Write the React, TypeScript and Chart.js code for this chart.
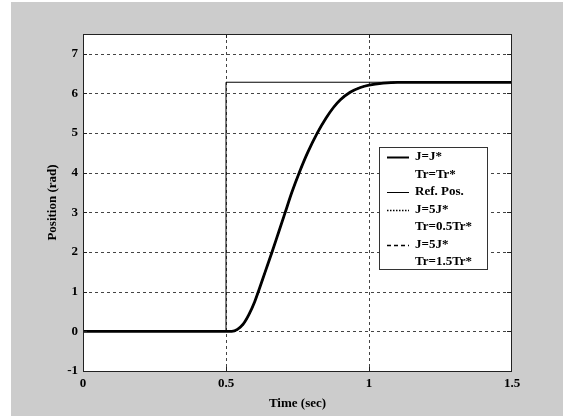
import React, { useEffect, useRef } from 'react';
import { Chart, registerables } from 'chart.js';

Chart.register(...registerables);

// ---- data ----
const timeSec = [0, 0.5, 0.52, 0.54, 0.56, 0.58, 0.6, 0.613, 0.637, 0.661, 0.684, 0.707, 0.73, 0.756, 0.785, 0.819, 0.85, 0.875, 0.9, 0.934, 0.97, 1.0, 1.05, 1.1, 1.2, 1.5];
const posJnomTrNom = [0, 0, 0, 0.05, 0.18, 0.42, 0.74, 1, 1.5, 2, 2.5, 3, 3.5, 4, 4.5, 5, 5.38, 5.64, 5.84, 6.03, 6.15, 6.21, 6.26, 6.28, 6.28, 6.28];
const posJ5Tr05 = [0, 0, 0, 0.05, 0.18, 0.42, 0.74, 1, 1.5, 2, 2.5, 3, 3.5, 4, 4.5, 5, 5.38, 5.64, 5.84, 6.03, 6.15, 6.21, 6.26, 6.28, 6.28, 6.28];
const posJ5Tr15 = [0, 0, 0, 0.05, 0.18, 0.42, 0.74, 1, 1.5, 2, 2.5, 3, 3.5, 4, 4.5, 5, 5.38, 5.64, 5.84, 6.03, 6.15, 6.21, 6.26, 6.28, 6.28, 6.28];
const refTime = [0, 0.5, 0.5, 1.5];
const refPos = [0, 0, 6.2832, 6.2832];

const xTickValues = [0, 0.5, 1, 1.5];
const xTickLabels = ['0', '0.5', '1', '1.5'];
const yTickValues = [-1, 0, 1, 2, 3, 4, 5, 6, 7];
const yTickLabels = ['-1', '0', '1', '2', '3', '4', '5', '6', '7'];

const xTitle = 'Time (sec)';
const yTitle = 'Position (rad)';

const legendLabels: string[][] = [
  ['J=J*', 'Tr=Tr*'],
  ['Ref. Pos.'],
  ['J=5J*', 'Tr=0.5Tr*'],
  ['J=5J*', 'Tr=1.5Tr*'],
];

const FONT = "'Liberation Serif', 'Times New Roman', serif";

const toPts = (xs: number[], ys: number[]) => xs.map((x, i) => ({ x, y: ys[i] }));

const framePlugin = {
  id: 'matlabFrame',
  beforeDraw(chart: any) {
    const { ctx, chartArea: a } = chart;
    const xs = chart.scales.x;
    const ys = chart.scales.y;
    ctx.save();
    ctx.fillStyle = '#ffffff';
    ctx.fillRect(a.left, a.top, a.right - a.left, a.bottom - a.top);
    ctx.strokeStyle = '#444444';
    ctx.lineWidth = 1;
    ctx.setLineDash([3, 3]);
    xs.ticks.forEach((t: any) => {
      const px = Math.round(xs.getPixelForValue(t.value)) + 0.5;
      if (px <= a.left + 2 || px >= a.right - 2) return;
      ctx.beginPath();
      ctx.moveTo(px, a.top);
      ctx.lineTo(px, a.bottom);
      ctx.stroke();
    });
    ys.ticks.forEach((t: any) => {
      const py = Math.round(ys.getPixelForValue(t.value)) + 0.5;
      if (py <= a.top + 2 || py >= a.bottom - 2) return;
      ctx.beginPath();
      ctx.moveTo(a.left, py);
      ctx.lineTo(a.right, py);
      ctx.stroke();
    });
    ctx.restore();
  },
  afterDatasetsDraw(chart: any) {
    const { ctx, chartArea: a } = chart;
    const xs = chart.scales.x;
    const ys = chart.scales.y;
    ctx.save();
    ctx.setLineDash([]);
    ctx.strokeStyle = '#222222';
    ctx.lineWidth = 1;
    // inner tick marks
    const tl = 4;
    xs.ticks.forEach((t: any) => {
      const px = Math.round(xs.getPixelForValue(t.value)) + 0.5;
      if (px <= a.left + 2 || px >= a.right - 2) return;
      ctx.beginPath();
      ctx.moveTo(px, a.bottom);
      ctx.lineTo(px, a.bottom - tl);
      ctx.moveTo(px, a.top);
      ctx.lineTo(px, a.top + tl);
      ctx.stroke();
    });
    ys.ticks.forEach((t: any) => {
      const py = Math.round(ys.getPixelForValue(t.value)) + 0.5;
      if (py <= a.top + 2 || py >= a.bottom - 2) return;
      ctx.beginPath();
      ctx.moveTo(a.left, py);
      ctx.lineTo(a.left + tl, py);
      ctx.moveTo(a.right - 1, py);
      ctx.lineTo(a.right - 1 - tl, py);
      ctx.stroke();
    });
    // frame
    ctx.strokeRect(a.left + 0.5, a.top + 0.5, a.right - a.left - 1, a.bottom - a.top);

    // legend
    const bx = a.right - 133;
    const by = a.top + 113;
    const bw = 108;
    const bh = 122;
    ctx.fillStyle = '#ffffff';
    ctx.fillRect(bx, by, bw, bh);
    ctx.strokeStyle = '#333333';
    ctx.strokeRect(bx + 0.5, by + 0.5, bw, bh);
    ctx.font = `bold 13px ${FONT}`;
    ctx.textBaseline = 'middle';
    ctx.textAlign = 'left';
    const rowH = 17.5;
    let row = 0;
    const order = [0, 3, 1, 2];
    legendLabels.forEach((lines, i) => {
      const ds = chart.data.datasets[order[i]];
      const y = Math.round(by + 10 + row * rowH) + 0.5;
      ctx.save();
      ctx.strokeStyle = '#000000';
      ctx.lineWidth = Math.min(ds.borderWidth, 2);
      ctx.setLineDash(ds.legendDash || []);
      ctx.beginPath();
      ctx.moveTo(bx + 8, y);
      ctx.lineTo(bx + 30, y);
      ctx.stroke();
      ctx.restore();
      lines.forEach((ln) => {
        ctx.fillStyle = '#000000';
        ctx.fillText(ln, bx + 36, by + 10 + row * rowH);
        row += 1;
      });
    });
    ctx.restore();
  },
};

export default function App() {
  const ref = useRef<HTMLCanvasElement>(null);
  useEffect(() => {
    if (!ref.current) return;
    const chart = new Chart(ref.current, {
      type: 'scatter',
      data: {
        datasets: [
          {
            label: 'J=J* Tr=Tr*',
            data: toPts(timeSec, posJnomTrNom),
            showLine: true,
            borderColor: '#000000',
            borderWidth: 2.8,
            pointRadius: 0,
            cubicInterpolationMode: 'monotone',
            legendDash: [],
          } as any,
          {
            label: 'J=5J* Tr=0.5Tr*',
            data: toPts(timeSec, posJ5Tr05),
            showLine: true,
            borderColor: '#000000',
            borderWidth: 1.5,
            borderDash: [1.5, 2],
            pointRadius: 0,
            cubicInterpolationMode: 'monotone',
            legendDash: [1.5, 1.5],
          } as any,
          {
            label: 'J=5J* Tr=1.5Tr*',
            data: toPts(timeSec, posJ5Tr15),
            showLine: true,
            borderColor: '#000000',
            borderWidth: 1.5,
            borderDash: [4, 3],
            pointRadius: 0,
            cubicInterpolationMode: 'monotone',
            legendDash: [4, 3],
          } as any,
          {
            label: 'Ref. Pos.',
            data: toPts(refTime, refPos),
            showLine: true,
            borderColor: '#000000',
            borderWidth: 1,
            pointRadius: 0,
            tension: 0,
            legendDash: [],
          } as any,
        ],
      },
      options: {
        animation: false,
        responsive: true,
        maintainAspectRatio: false,
        events: [],
        layout: { padding: { left: 0, top: 32, right: 51, bottom: 0 } },
        plugins: {
          legend: { display: false },
          tooltip: { enabled: false },
        },
        scales: {
          x: {
            type: 'linear',
            min: 0,
            max: 1.5,
            afterBuildTicks: (s: any) => {
              s.ticks = xTickValues.map((v) => ({ value: v }));
            },
            afterFit: (s: any) => {
              s.height = 45;
            },
            grid: { display: false, drawTicks: false },
            border: { display: false },
            ticks: {
              padding: 5,
              color: '#000000',
              maxRotation: 0,
              autoSkip: false,
              callback: (v: any) => {
                const i = xTickValues.indexOf(Number(v));
                return i >= 0 ? xTickLabels[i] : '';
              },
              font: { family: FONT, size: 13, weight: 'bold' },
            },
            title: {
              display: true,
              text: xTitle,
              color: '#000000',
              padding: { top: 0, bottom: 5 },
              font: { family: FONT, size: 13, weight: 'bold' },
            },
          },
          y: {
            type: 'linear',
            min: -1,
            max: 7.5,
            afterBuildTicks: (s: any) => {
              s.ticks = yTickValues.map((v) => ({ value: v }));
            },
            afterFit: (s: any) => {
              s.width = 72;
            },
            grid: { display: false, drawTicks: false },
            border: { display: false },
            ticks: {
              padding: 5,
              color: '#000000',
              autoSkip: false,
              callback: (v: any) => {
                const i = yTickValues.indexOf(Number(v));
                return i >= 0 ? yTickLabels[i] : '';
              },
              font: { family: FONT, size: 13, weight: 'bold' },
            },
            title: {
              display: true,
              text: yTitle,
              color: '#000000',
              padding: { top: 34, bottom: 0 },
              font: { family: FONT, size: 13, weight: 'bold' },
            },
          },
        },
      } as any,
      plugins: [framePlugin],
    });
    return () => chart.destroy();
  }, []);

  return (
    <div
      style={{
        position: 'absolute',
        left: 11,
        top: 2,
        width: 552,
        height: 414,
        background: '#cccccc',
      }}
    >
      <canvas ref={ref} />
    </div>
  );
}
